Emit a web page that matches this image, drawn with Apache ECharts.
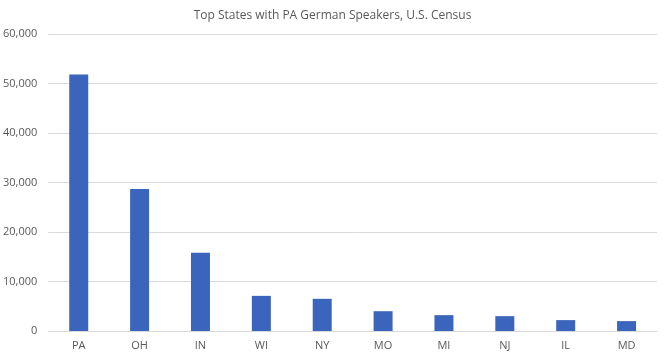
<!DOCTYPE html>
<html>
<head>
<meta charset="utf-8">
<script src="https://cdn.jsdelivr.net/npm/echarts@6/dist/echarts.min.js"></script>
<style>html,body{margin:0;padding:0;background:#fff}#c{width:665px;height:356px}</style>
</head>
<body>
<div id="c"></div>
<script>
const title = "Top States with PA German Speakers, U.S. Census";
const categories = ["PA", "OH", "IN", "WI", "NY", "MO", "MI", "NJ", "IL", "MD"];
const speakers = [51800, 28700, 15800, 7100, 6500, 4000, 3200, 3000, 2200, 2000];
const yTicks = { min: 0, max: 60000, interval: 10000 };

const chart = echarts.init(document.getElementById('c'), null, { renderer: 'canvas' });
const font = "'Open Sans', 'Liberation Sans', sans-serif";
chart.setOption({
  animation: false,
  title: {
    text: title, left: 'center', top: 5,
    textStyle: { fontFamily: font, fontSize: 12, fontWeight: 'normal', color: '#595959' }
  },
  grid: { left: 47, right: 8, top: 34, bottom: 25, containLabel: false },
  xAxis: {
    type: 'category', data: categories,
    axisLine: { lineStyle: { color: '#D9D9D9' } },
    axisTick: { show: false },
    axisLabel: { fontFamily: font, fontSize: 11, color: '#595959', margin: 9 }
  },
  yAxis: {
    type: 'value', min: yTicks.min, max: yTicks.max, interval: yTicks.interval,
    axisLine: { show: false }, axisTick: { show: false },
    splitLine: { lineStyle: { color: '#D9D9D9' } },
    axisLabel: {
      fontFamily: font, fontSize: 11, color: '#595959', margin: 11,
      formatter: v => v.toLocaleString('en-US')
    }
  },
  series: [{
    type: 'bar', data: speakers, barWidth: 19,
    itemStyle: { color: '#3B65BC' }
  }]
});
</script>
</body>
</html>
